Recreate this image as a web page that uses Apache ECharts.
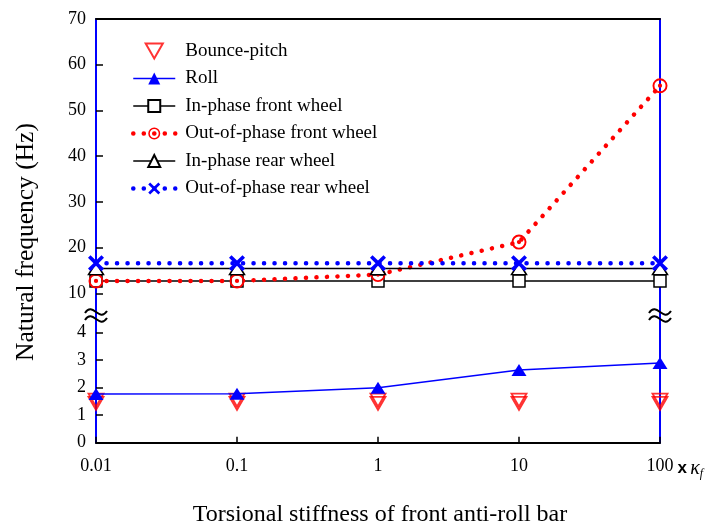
<!DOCTYPE html>
<html><head><meta charset="utf-8">
<script src="https://cdn.jsdelivr.net/npm/echarts@6/dist/echarts.min.js"></script>
<style>html,body{margin:0;padding:0;background:#fff}#c{width:718px;height:530px}</style>
</head><body><div id="c"></div>
<script>
// ---- data ----
const xStiffness = [0.01, 0.1, 1, 10, 100];
const xTickLabels = ['0.01', '0.1', '1', '10', '100'];
const bounceVals = [1.55, 1.55, 1.55, 1.55, 1.55];
const pitchVals = [1.43, 1.43, 1.43, 1.43, 1.43];
const rollVals = [1.77, 1.78, 2.00, 2.64, 2.90];
const inFrontVals = [12.7, 12.7, 12.7, 12.7, 12.7];
const outFrontVals = [12.7, 12.7, 14.1, 21.2, 55.4];
const inRearVals = [15.4, 15.4, 15.4, 15.4, 15.4];
const outRearVals = [16.6, 16.6, 16.6, 16.6, 16.6];
const upperTicks = [10, 20, 30, 40, 50, 60, 70];
const lowerTicks = [0, 1, 2, 3, 4];
const seriesNames = ['Bounce-pitch', 'Roll', 'In-phase front wheel', 'Out-of-phase front wheel', 'In-phase rear wheel', 'Out-of-phase rear wheel'];

const pts = vals => xStiffness.map((x, i) => [x, vals[i]]);
const SERIF = '"Liberation Serif", "Times New Roman", serif';
const BLUE = '#0000ff', RED = '#ff0000';

const triDown = 'path://M0,0 L16,0 L8,14 Z';
const ringDot = 'path://M2.6,10 A7.4,7.4 0 1 1 17.4,10 A7.4,7.4 0 1 1 2.6,10 Z M4.5,10 A5.5,5.5 0 1 0 15.5,10 A5.5,5.5 0 1 0 4.5,10 Z M7.9,10 A2.1,2.1 0 1 1 12.1,10 A2.1,2.1 0 1 1 7.9,10 Z';
const xMark = 'path://M0,2.2 L2.2,0 L7,4.8 L11.8,0 L14,2.2 L9.2,7 L14,11.8 L11.8,14 L7,9.2 L2.2,14 L0,11.8 L4.8,7 Z';
const dots = [0.1, 10.4];

const chart = echarts.init(document.getElementById('c'), null, {renderer: 'canvas'});

const logAxisBase = {type: 'log', logBase: 10, min: 0.01, max: 100, splitLine: {show: false}, minorTick: {show: false}};
const yLabel = {fontFamily: SERIF, fontSize: 18, color: '#000', margin: 10};

function breakMark(cx, cy) {
  const mk = dy => ({type: 'bezierCurve', z: 100,
    shape: {x1: cx - 11, y1: cy + dy + 1, cpx1: cx - 3, cpy1: cy + dy - 11, cpx2: cx + 3, cpy2: cy + dy + 11, x2: cx + 11, y2: cy + dy - 1},
    style: {stroke: '#000', lineWidth: 2, fill: null}});
  return [mk(-3.5), mk(3.5)];
}

const option = {
  backgroundColor: '#fff',
  animation: false,
  grid: [
    {left: 96, width: 564, top: 19, height: 274.3},
    {left: 96, width: 564, top: 293.3, height: 149.4}
  ],
  xAxis: [
    Object.assign({}, logAxisBase, {gridIndex: 0, position: 'top',
      axisLine: {lineStyle: {color: '#000', width: 2}}, axisTick: {show: false}, axisLabel: {show: false}}),
    Object.assign({}, logAxisBase, {gridIndex: 1, position: 'bottom',
      axisLine: {lineStyle: {color: '#000', width: 2}},
      axisTick: {inside: true, length: 6, lineStyle: {color: '#000', width: 1.5}},
      axisLabel: {fontFamily: SERIF, fontSize: 18, color: '#000', margin: 15,
        formatter: v => xTickLabels[Math.round(Math.log10(v)) + 2]},
      name: '{x|x} {k|κ}{f|f}', nameLocation: 'end', nameGap: 16,
      nameTextStyle: {verticalAlign: 'top', padding: [15, 0, 0, 0],
        rich: {
          x: {fontFamily: 'Liberation Sans, Arial, sans-serif', fontSize: 17, fontWeight: 'bold', color: '#000'},
          k: {fontFamily: SERIF, fontSize: 20, fontStyle: 'italic', color: '#000'},
          f: {fontFamily: SERIF, fontSize: 12, fontStyle: 'italic', color: '#000', padding: [10, 0, 0, 0]}
        }}})
  ],
  yAxis: [
    {gridIndex: 0, type: 'value', min: 10, max: 70, interval: 10, splitLine: {show: false},
      axisLine: {show: true, lineStyle: {color: BLUE, width: 2}},
      axisTick: {show: true, inside: true, length: 7, lineStyle: {color: '#000', width: 1.5}},
      axisLabel: Object.assign({}, yLabel)},
    {gridIndex: 0, type: 'value', position: 'right', min: 10, max: 70, interval: 10, splitLine: {show: false},
      axisLine: {show: true, lineStyle: {color: BLUE, width: 2}}, axisTick: {show: false}, axisLabel: {show: false}},
    {gridIndex: 1, type: 'value', min: 0, max: 5.433, splitLine: {show: false},
      axisLine: {show: true, lineStyle: {color: BLUE, width: 2}},
      axisTick: {show: true, inside: true, length: 7, lineStyle: {color: '#000', width: 1.5}, customValues: lowerTicks},
      axisLabel: Object.assign({}, yLabel, {customValues: lowerTicks})},
    {gridIndex: 1, type: 'value', position: 'right', min: 0, max: 5.433, splitLine: {show: false},
      axisLine: {show: true, lineStyle: {color: BLUE, width: 2}}, axisTick: {show: false}, axisLabel: {show: false}}
  ],
  legend: {
    data: seriesNames, orient: 'vertical', left: 131, top: 41, padding: 0,
    itemWidth: 42, itemHeight: 15, itemGap: 7.5,
    lineStyle: {width: 'inherit'},
    textStyle: {fontFamily: SERIF, fontSize: 19, color: '#000', lineHeight: 20, padding: [0, 0, 0, 5]}
  },
  series: [
    {name: seriesNames[0], type: 'scatter', xAxisIndex: 1, yAxisIndex: 2, data: pts(bounceVals), clip: false,
      symbol: triDown, symbolSize: [15, 13], itemStyle: {color: 'rgba(255,255,255,0)', borderColor: RED, borderWidth: 1.8}},
    {name: seriesNames[0], type: 'scatter', xAxisIndex: 1, yAxisIndex: 2, data: pts(pitchVals), clip: false,
      symbol: triDown, symbolSize: [15, 13], itemStyle: {color: 'rgba(255,255,255,0)', borderColor: RED, borderWidth: 1.8}},
    {name: seriesNames[1], type: 'line', xAxisIndex: 1, yAxisIndex: 2, data: pts(rollVals), clip: false,
      symbol: 'triangle', symbolSize: [15, 12], showAllSymbol: true,
      itemStyle: {color: BLUE}, lineStyle: {color: BLUE, width: 1.5}},
    {name: seriesNames[2], type: 'line', xAxisIndex: 0, yAxisIndex: 0, data: pts(inFrontVals), clip: false,
      symbol: 'rect', symbolSize: 12, showAllSymbol: true,
      itemStyle: {color: '#fff', borderColor: '#000', borderWidth: 1.5}, lineStyle: {color: '#000', width: 1.5}},
    {name: seriesNames[3], type: 'line', xAxisIndex: 0, yAxisIndex: 0, data: pts(outFrontVals), clip: false,
      symbol: ringDot, symbolSize: 15, showAllSymbol: true,
      itemStyle: {color: RED}, lineStyle: {color: RED, width: 4.5, type: dots, cap: 'round'}},
    {name: seriesNames[4], type: 'line', xAxisIndex: 0, yAxisIndex: 0, data: pts(inRearVals), clip: false,
      symbol: 'triangle', symbolSize: [15, 12], showAllSymbol: true,
      itemStyle: {color: '#fff', borderColor: '#000', borderWidth: 1.5}, lineStyle: {color: '#000', width: 1.5}},
    {name: seriesNames[5], type: 'line', xAxisIndex: 0, yAxisIndex: 0, data: pts(outRearVals), clip: false,
      symbol: xMark, symbolSize: 16, showAllSymbol: true,
      itemStyle: {color: BLUE}, lineStyle: {color: BLUE, width: 4.5, type: dots, cap: 'round'}}
  ],
  graphic: [
    {type: 'text', x: 26, y: 242, rotation: Math.PI / 2,
      style: {text: 'Natural frequency (Hz)', font: '25.5px ' + SERIF, fill: '#000', align: 'center', verticalAlign: 'middle'}},
    {type: 'text', x: 380, y: 515,
      style: {text: 'Torsional stiffness of front anti-roll bar', font: '24px ' + SERIF, fill: '#000', align: 'center', verticalAlign: 'middle'}}
  ].concat(breakMark(96, 315.5), breakMark(660, 315.5))
};
chart.setOption(option);
</script>
</body></html>
